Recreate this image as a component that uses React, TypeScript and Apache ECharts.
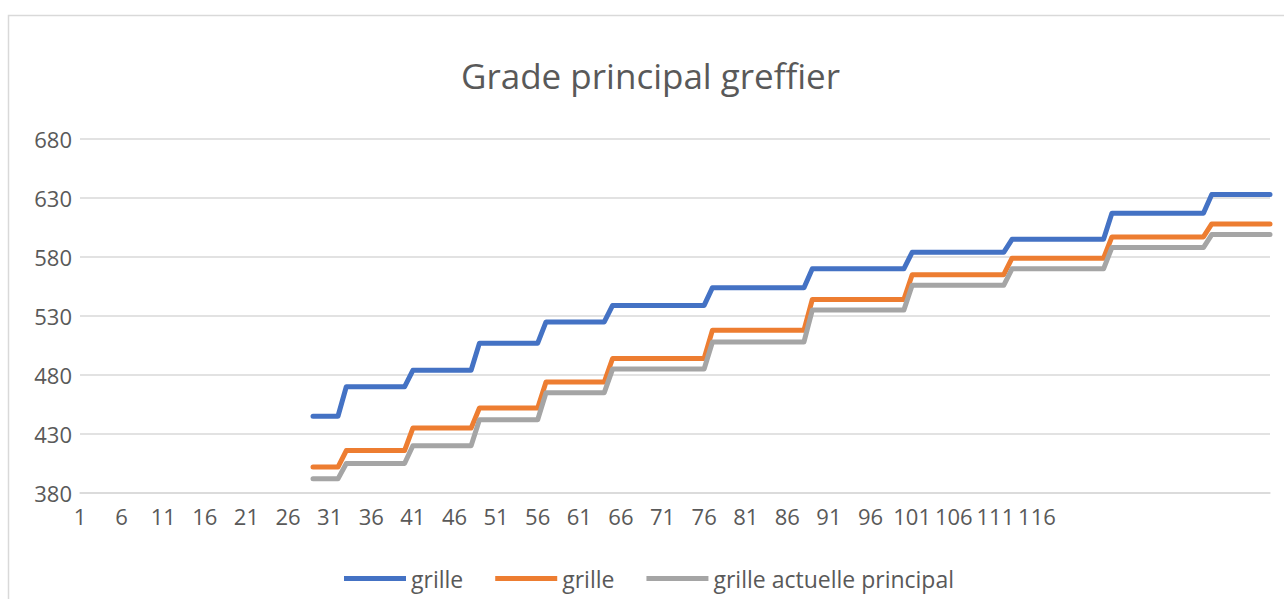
import React, { useEffect, useRef } from "react";
import * as echarts from "echarts";

// Categories 1..144 (step index)
const categoryCount = 144;
const categories: string[] = Array.from({ length: categoryCount }, (_, i) => String(i + 1));
const lastLabelledCategory = 116;
const firstDataCategory = 29;

// y-axis tick labels
const yTicks = [380, 430, 480, 530, 580, 630, 680];

// Series values, categories 29..144
const grilleBlue = [
  445, 445, 445, 445,
  470, 470, 470, 470, 470, 470, 470, 470,
  484, 484, 484, 484, 484, 484, 484, 484,
  507, 507, 507, 507, 507, 507, 507, 507,
  525, 525, 525, 525, 525, 525, 525, 525,
  539, 539, 539, 539, 539, 539, 539, 539, 539, 539, 539, 539,
  554, 554, 554, 554, 554, 554, 554, 554, 554, 554, 554, 554,
  570, 570, 570, 570, 570, 570, 570, 570, 570, 570, 570, 570,
  584, 584, 584, 584, 584, 584, 584, 584, 584, 584, 584, 584,
  595, 595, 595, 595, 595, 595, 595, 595, 595, 595, 595, 595,
  617, 617, 617, 617, 617, 617, 617, 617, 617, 617, 617, 617,
  633, 633, 633, 633, 633, 633, 633, 633,
];

const grilleOrange = [
  402, 402, 402, 402,
  416, 416, 416, 416, 416, 416, 416, 416,
  435, 435, 435, 435, 435, 435, 435, 435,
  452, 452, 452, 452, 452, 452, 452, 452,
  474, 474, 474, 474, 474, 474, 474, 474,
  494, 494, 494, 494, 494, 494, 494, 494, 494, 494, 494, 494,
  518, 518, 518, 518, 518, 518, 518, 518, 518, 518, 518, 518,
  544, 544, 544, 544, 544, 544, 544, 544, 544, 544, 544, 544,
  565, 565, 565, 565, 565, 565, 565, 565, 565, 565, 565, 565,
  579, 579, 579, 579, 579, 579, 579, 579, 579, 579, 579, 579,
  597, 597, 597, 597, 597, 597, 597, 597, 597, 597, 597, 597,
  608, 608, 608, 608, 608, 608, 608, 608,
];

const grilleActuelle = [
  392, 392, 392, 392,
  405, 405, 405, 405, 405, 405, 405, 405,
  420, 420, 420, 420, 420, 420, 420, 420,
  442, 442, 442, 442, 442, 442, 442, 442,
  465, 465, 465, 465, 465, 465, 465, 465,
  485, 485, 485, 485, 485, 485, 485, 485, 485, 485, 485, 485,
  508, 508, 508, 508, 508, 508, 508, 508, 508, 508, 508, 508,
  535, 535, 535, 535, 535, 535, 535, 535, 535, 535, 535, 535,
  556, 556, 556, 556, 556, 556, 556, 556, 556, 556, 556, 556,
  570, 570, 570, 570, 570, 570, 570, 570, 570, 570, 570, 570,
  588, 588, 588, 588, 588, 588, 588, 588, 588, 588, 588, 588,
  599, 599, 599, 599, 599, 599, 599, 599,
];

// Internal ids keep the two "grille" series distinct; the legend shows the label.
const seriesIds = ["grille#1", "grille#2", "grille actuelle principal"];
const seriesColors = ["#4472C4", "#ED7D31", "#A5A5A5"];

const pad = (vals: number[]) => [
  ...new Array(firstDataCategory - 1).fill(null),
  ...vals,
];

const FONT = "'Open Sans', 'Noto Sans', sans-serif";
const TEXT_COLOR = "#595959";

export default function App() {
  const ref = useRef<HTMLDivElement>(null);

  useEffect(() => {
    if (!ref.current) return;
    const chart = echarts.init(ref.current, undefined, { renderer: "svg" });
    const values = [grilleBlue, grilleOrange, grilleActuelle];
    chart.setOption({
      animation: false,
      backgroundColor: "#ffffff",
      textStyle: { fontFamily: FONT },
      title: {
        text: "Grade principal greffier",
        left: 456,
        top: 53,
        textStyle: {
          fontFamily: FONT,
          fontSize: 35,
          fontWeight: "normal",
          color: TEXT_COLOR,
        },
      },
      graphic: [
        {
          type: "rect",
          shape: { x: 8.5, y: 15.5, width: 1300, height: 620 },
          style: { fill: "none", stroke: "#d9d9d9", lineWidth: 1.5 },
          silent: true,
          z: -10,
        },
      ],
      legend: {
        left: 339,
        top: 562,
        icon: "rect",
        itemWidth: 62,
        itemHeight: 5,
        itemGap: 32,
        formatter: (name: string) => name.split("#")[0],
        textStyle: { fontFamily: FONT, fontSize: 23, color: TEXT_COLOR },
        data: seriesIds.map((n) => ({ name: n })),
      },
      grid: { left: 80, right: 14, top: 139, bottom: 106, containLabel: false },
      xAxis: {
        type: "category",
        data: categories,
        boundaryGap: false,
        axisLine: { show: true, lineStyle: { color: "#d9d9d9", width: 1.5 } },
        axisTick: { show: false },
        axisLabel: {
          interval: 4,
          margin: 12,
          fontFamily: FONT,
          fontSize: 22,
          color: TEXT_COLOR,
          formatter: (v: string) => (Number(v) <= lastLabelledCategory ? v : ""),
        },
        splitLine: { show: false },
      },
      yAxis: {
        type: "value",
        min: yTicks[0],
        max: yTicks[yTicks.length - 1],
        axisLine: { show: false },
        axisTick: { show: false, customValues: yTicks },
        axisLabel: {
          customValues: yTicks,
          margin: 8,
          fontFamily: FONT,
          fontSize: 22,
          color: TEXT_COLOR,
        },
        splitLine: { show: true, lineStyle: { color: "#d9d9d9", width: 1.5 } },
      },
      series: values.map((vals, i) => ({
        name: seriesIds[i],
        type: "line",
        data: pad(vals),
        symbol: "none",
        color: seriesColors[i],
        lineStyle: { width: 5, color: seriesColors[i], cap: "round", join: "round" },
        connectNulls: false,
      })),
    });
    return () => chart.dispose();
  }, []);

  return (
    <div
      ref={ref}
      style={{ position: "fixed", left: 0, top: 0, width: 1284, height: 599 }}
    />
  );
}
